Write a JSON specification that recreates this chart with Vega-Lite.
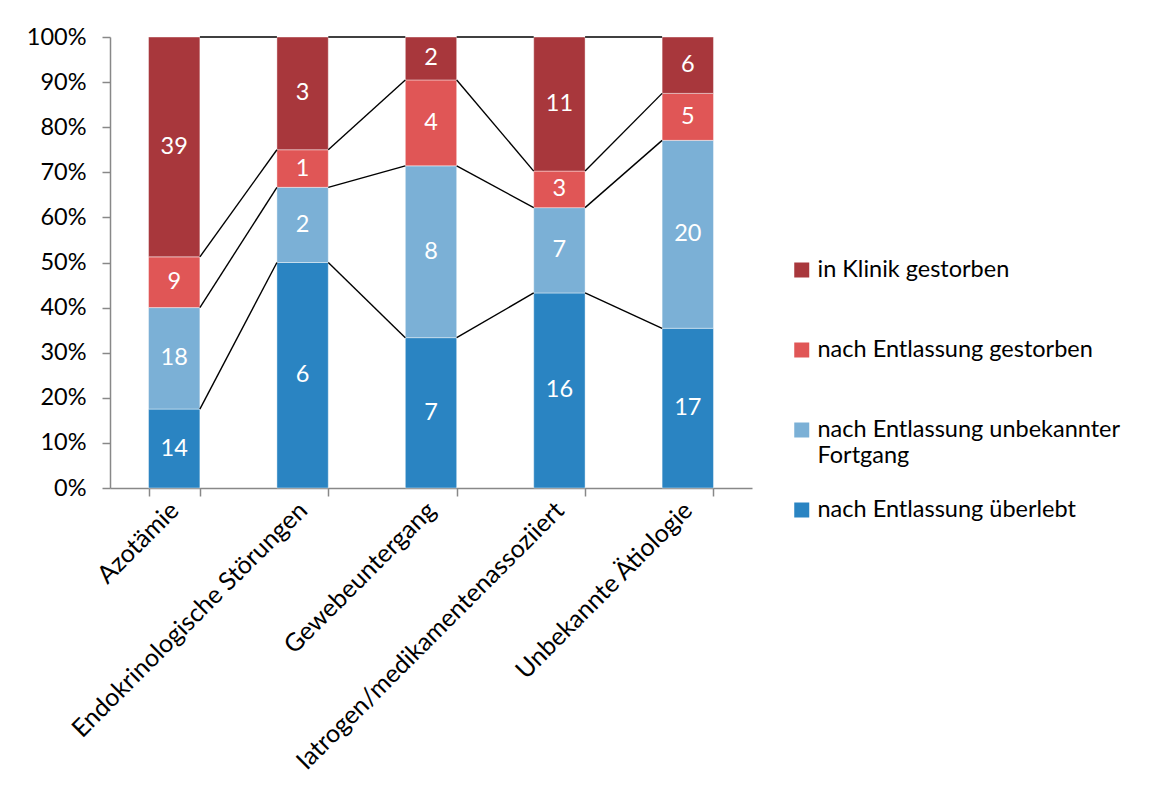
{
  "$schema": "https://vega.github.io/schema/vega-lite/v6.json",
  "width": 642,
  "height": 451,
  "autosize": {"type": "none"},
  "padding": {"left": 110, "top": 37, "right": 405, "bottom": 310},
  "background": "white",
  "config": {
    "font": "Lato",
    "view": {"stroke": null},
    "axis": {
      "labelFont": "Lato",
      "labelFontSize": 23.5,
      "labelColor": "#000000",
      "domainColor": "#888888",
      "tickColor": "#888888",
      "domainWidth": 1.5,
      "tickWidth": 1.5,
      "grid": false,
      "title": null
    },
    "legend": {"labelFont": "Lato", "labelFontSize": 23.5, "labelColor": "#000000"}
  },
  "data": {
    "values": [
      {"cat": "Azotämie", "ci": 0, "status": "nach Entlassung überlebt", "ord": 1, "n": 14},
      {"cat": "Azotämie", "ci": 0, "status": "nach Entlassung unbekannter Fortgang", "ord": 2, "n": 18},
      {"cat": "Azotämie", "ci": 0, "status": "nach Entlassung gestorben", "ord": 3, "n": 9},
      {"cat": "Azotämie", "ci": 0, "status": "in Klinik gestorben", "ord": 4, "n": 39},
      {"cat": "Endokrinologische Störungen", "ci": 1, "status": "nach Entlassung überlebt", "ord": 1, "n": 6},
      {"cat": "Endokrinologische Störungen", "ci": 1, "status": "nach Entlassung unbekannter Fortgang", "ord": 2, "n": 2},
      {"cat": "Endokrinologische Störungen", "ci": 1, "status": "nach Entlassung gestorben", "ord": 3, "n": 1},
      {"cat": "Endokrinologische Störungen", "ci": 1, "status": "in Klinik gestorben", "ord": 4, "n": 3},
      {"cat": "Gewebeuntergang", "ci": 2, "status": "nach Entlassung überlebt", "ord": 1, "n": 7},
      {"cat": "Gewebeuntergang", "ci": 2, "status": "nach Entlassung unbekannter Fortgang", "ord": 2, "n": 8},
      {"cat": "Gewebeuntergang", "ci": 2, "status": "nach Entlassung gestorben", "ord": 3, "n": 4},
      {"cat": "Gewebeuntergang", "ci": 2, "status": "in Klinik gestorben", "ord": 4, "n": 2},
      {"cat": "Iatrogen/medikamentenassoziiert", "ci": 3, "status": "nach Entlassung überlebt", "ord": 1, "n": 16},
      {"cat": "Iatrogen/medikamentenassoziiert", "ci": 3, "status": "nach Entlassung unbekannter Fortgang", "ord": 2, "n": 7},
      {"cat": "Iatrogen/medikamentenassoziiert", "ci": 3, "status": "nach Entlassung gestorben", "ord": 3, "n": 3},
      {"cat": "Iatrogen/medikamentenassoziiert", "ci": 3, "status": "in Klinik gestorben", "ord": 4, "n": 11},
      {"cat": "Unbekannte Ätiologie", "ci": 4, "status": "nach Entlassung überlebt", "ord": 1, "n": 17},
      {"cat": "Unbekannte Ätiologie", "ci": 4, "status": "nach Entlassung unbekannter Fortgang", "ord": 2, "n": 20},
      {"cat": "Unbekannte Ätiologie", "ci": 4, "status": "nach Entlassung gestorben", "ord": 3, "n": 5},
      {"cat": "Unbekannte Ätiologie", "ci": 4, "status": "in Klinik gestorben", "ord": 4, "n": 6}
    ]
  },
  "transform": [
    {"joinaggregate": [{"op": "sum", "field": "n", "as": "total"}], "groupby": ["cat"]},
    {"calculate": "datum.n / datum.total", "as": "pct"},
    {"window": [{"op": "sum", "field": "pct", "as": "cum"}], "groupby": ["cat"], "sort": [{"field": "ord", "order": "ascending"}], "frame": [null, 0]},
    {"calculate": "datum.cum - datum.pct", "as": "lo"},
    {"calculate": "datum.cum - datum.pct / 2", "as": "mid"}
  ],
  "layer": [
    {
      "mark": {"type": "bar", "stroke": "white", "strokeWidth": 0.6, "strokeOpacity": 0.7},
      "encoding": {
        "x": {
          "field": "cat",
          "type": "nominal",
          "sort": {"field": "ci"},
          "scale": {"paddingInner": 0.6, "paddingOuter": 0.3},
          "axis": {
            "labelAngle": -45,
            "labelAlign": "right",
            "labelBaseline": "middle",
            "labelPadding": 10,
            "labelFontSize": 25,
            "labelLimit": 450,
            "tickBand": "extent",
            "tickSize": 8
          }
        },
        "y": {
          "field": "lo",
          "type": "quantitative",
          "scale": {"domain": [0, 1], "nice": false},
          "axis": {"format": ".0%", "values": [0, 0.1, 0.2, 0.3, 0.4, 0.5, 0.6, 0.7, 0.8, 0.9, 1], "tickSize": 8, "labelPadding": 16}
        },
        "y2": {"field": "cum"},
        "color": {
          "field": "status",
          "type": "nominal",
          "scale": {
            "domain": ["in Klinik gestorben", "nach Entlassung gestorben", "nach Entlassung unbekannter Fortgang", "nach Entlassung überlebt"],
            "range": ["#A8373C", "#E05656", "#7BB0D6", "#2A84C2"]
          },
          "legend": {
            "title": null,
            "orient": "none",
            "legendX": 680,
            "legendY": 221,
            "symbolType": "square",
            "symbolSize": 225,
            "symbolStrokeWidth": 0,
            "labelOffset": 4,
            "gridAlign": "all",
            "rowPadding": 31,
            "clipHeight": 24,
            "labelLimit": 400,
            "padding": 0,
            "labelExpr": "datum.label == 'nach Entlassung unbekannter Fortgang' ? ['nach Entlassung unbekannter', 'Fortgang'] : datum.label"
          }
        }
      }
    },
    {
      "transform": [
        {"window": [{"op": "lead", "field": "cum", "as": "nextCum"}, {"op": "lead", "field": "cat", "as": "nextCat"}], "groupby": ["status"], "sort": [{"field": "ci", "order": "ascending"}]},
        {"filter": "datum.nextCat != null"}
      ],
      "mark": {"type": "rule", "color": "#000000", "strokeWidth": 1.4, "xOffset": 25.68, "x2Offset": -25.68},
      "encoding": {
        "x": {"field": "cat", "type": "nominal", "sort": {"field": "ci"}},
        "x2": {"field": "nextCat"},
        "y": {"field": "cum", "type": "quantitative"},
        "y2": {"field": "nextCum"}
      }
    },
    {
      "mark": {"type": "text", "color": "white", "fontSize": 23.5, "font": "Lato", "baseline": "middle", "align": "center"},
      "encoding": {
        "x": {"field": "cat", "type": "nominal", "sort": {"field": "ci"}},
        "y": {"field": "mid", "type": "quantitative"},
        "text": {"field": "n", "type": "quantitative"}
      }
    }
  ]
}
